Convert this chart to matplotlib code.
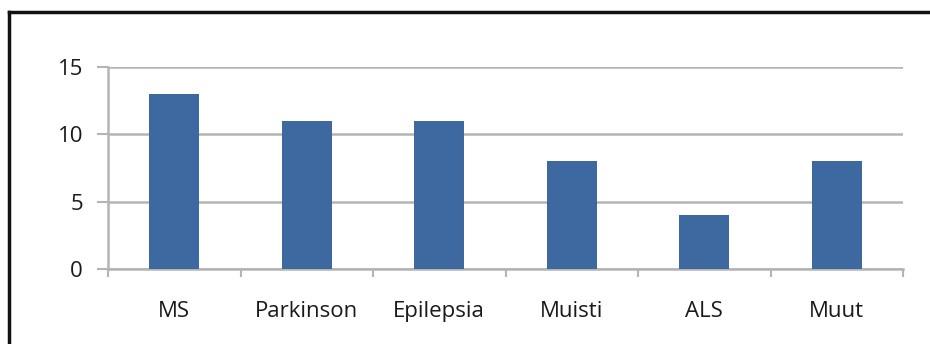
import numpy as np
import matplotlib
matplotlib.use("Agg")
import matplotlib.pyplot as plt
from matplotlib.lines import Line2D

# diagnosis groups and patient counts
categories = ["MS", "Parkinson", "Epilepsia", "Muisti", "ALS", "Muut"]
counts = [13, 11, 11, 8, 4, 8]
yticks = [0, 5, 10, 15]

W, H = 930, 344
plt.rcParams['font.family'] = ['Open Sans', 'DejaVu Sans']

fig = plt.figure(figsize=(W / 100, H / 100), dpi=100)
ax = fig.add_axes([108 / W, 1 - 269 / H, (903 - 108) / W, (269 - 67) / H])

x = np.arange(len(categories))
ax.bar(x, counts, width=0.38, color="#3E68A0", zorder=3)

ax.set_xlim(-0.5, len(categories) - 0.5)
ax.set_ylim(0, 15)
ax.set_yticks(yticks)
ax.yaxis.grid(True, color="#B4B4B4", linewidth=1.8, zorder=0)

# category boundaries get the tick marks, labels sit in the middle
ax.set_xticks(np.arange(len(categories) + 1) - 0.5)
ax.set_xticklabels([])
ax.set_xticks(x, minor=True)
ax.set_xticklabels(categories, minor=True)
ax.tick_params(axis="x", which="minor", length=0, pad=23, labelsize=16, labelcolor="#1a1a1a")
ax.tick_params(axis="x", which="major", length=6, width=1.5, color="#B4B4B4")
ax.tick_params(axis="y", length=8, width=1.5, color="#B4B4B4", pad=10,
               labelsize=16, labelcolor="#1a1a1a")

for side in ["top", "right"]:
    ax.spines[side].set_visible(False)
for side in ["left", "bottom"]:
    ax.spines[side].set_color("#B4B4B4")
    ax.spines[side].set_linewidth(1.8)

# outer frame: left and top edges
fig.add_artist(Line2D([9 / W, 9 / W], [0, 1 - 12 / H], color="#111111", linewidth=2.5))
fig.add_artist(Line2D([9 / W, 1], [1 - 12 / H, 1 - 12 / H], color="#111111", linewidth=2.5))

fig.savefig("out.png", dpi=100)
